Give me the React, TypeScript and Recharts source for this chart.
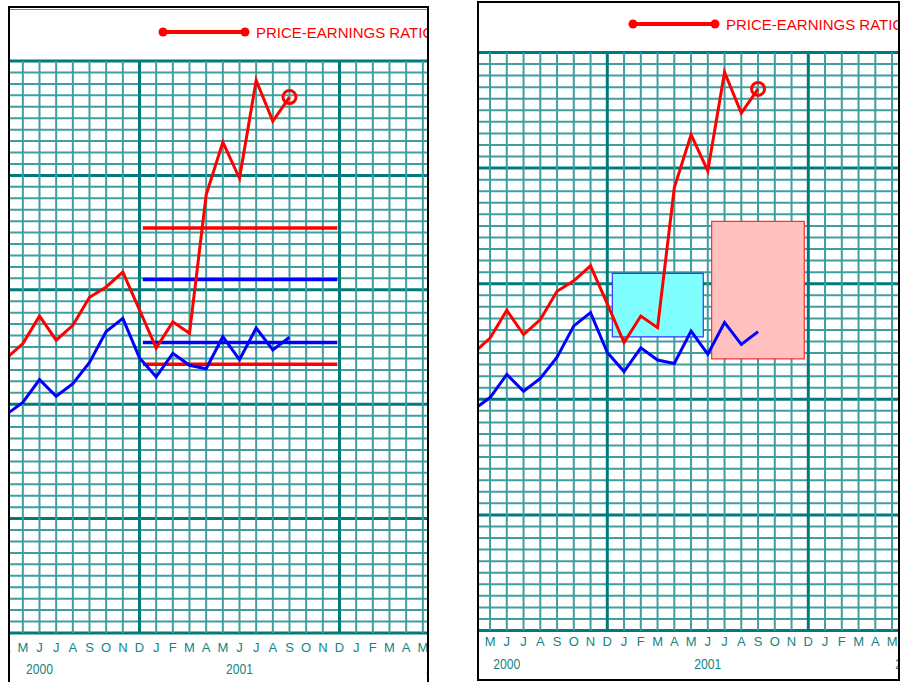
import React from 'react';
import {
  LineChart,
  Line,
  XAxis,
  YAxis,
  CartesianGrid,
  ReferenceLine,
  ReferenceArea,
  Legend,
} from 'recharts';

// ---------------- data ----------------
const periods = [
  '2000-04', '2000-05', '2000-06', '2000-07', '2000-08', '2000-09', '2000-10', '2000-11', '2000-12',
  '2001-01', '2001-02', '2001-03', '2001-04', '2001-05', '2001-06', '2001-07', '2001-08', '2001-09',
];
const priceEarnings = [
  24.0, 25.3, 27.7, 25.6, 26.9, 29.35, 30.25, 31.55, 28.25,
  24.9, 27.2, 26.2, 38.3, 42.9, 39.75, 48.3, 44.75, 46.85,
];
const blueSeries = [
  19.1, 20.15, 22.15, 20.7, 21.8, 23.65, 26.35, 27.5, 24.05,
  22.4, 24.45, 23.4, 23.1, 25.9, 23.9, 26.65, 24.75, 25.85,
];
const seriesName = 'PRICE-EARNINGS RATIO';
const monthLetters = ['J', 'F', 'M', 'A', 'M', 'J', 'J', 'A', 'S', 'O', 'N', 'D'];
const baseYear = 2000;
const axisFirst = '2000-04';
const axisLast = '2002-07';
const yMax = 50;

// horizontal level lines (left panel), in month-index units from Jan 2000
const redLevels = [35.4, 23.5];
const blueLevels = [30.9, 25.4];
const levelSpan = [11.2, 22.87];

// boxes (right panel)
const blueBox = [11.3, 16.73, 25.4, 30.9];
const redBox = [17.23, 22.76, 23.5, 35.4];

// ---------------- helpers ----------------
const toIndex = (p: string) => {
  const [y, m] = p.split('-').map(Number);
  return (y - baseYear) * 12 + (m - 1);
};

const data = periods.map((p, i) => ({
  m: toIndex(p),
  pe: priceEarnings[i],
  blue: blueSeries[i],
}));

const xMin = toIndex(axisFirst);
const xMax = toIndex(axisLast);
const xTicks: number[] = [];
for (let t = xMin; t <= xMax; t++) xTicks.push(t);
const yTicks: number[] = [];
for (let t = 0; t <= yMax; t++) yTicks.push(t);

const RED = '#ff0000';
const BLUE = '#0000ff';
const MINOR = '#3f9e9e';
const MAJOR = '#007b7b';
const LABEL = '#0f8585';

const hLine = (props: any) => {
  const { x1, x2, y1, y2, index } = props;
  const major = yTicks[index] % 10 === 0;
  return (
    <line
      key={`h-${index}`}
      x1={x1}
      x2={x2}
      y1={y1}
      y2={y2}
      stroke={major ? MAJOR : MINOR}
      strokeWidth={major ? 3 : 2}
    />
  );
};

const vLine = (props: any) => {
  const { x1, x2, y1, y2, index } = props;
  const major = xTicks[index] % 12 === 11;
  return (
    <line
      key={`v-${index}`}
      x1={x1}
      x2={x2}
      y1={y1}
      y2={y2}
      stroke={major ? MAJOR : MINOR}
      strokeWidth={major ? 3 : 2}
    />
  );
};

const endCircle = (props: any) => {
  const { cx, cy, index } = props;
  if (index !== data.length - 1) return <g key={`d-${index}`} />;
  return (
    <circle key={`d-${index}`} cx={cx} cy={cy} r={6.5} fill="none" stroke={RED} strokeWidth={3} />
  );
};

const makeTick = (monthDy: number, yearDy: number) => (props: any) => {
  const { x, y, payload } = props;
  const v = payload.value as number;
  const mi = ((v % 12) + 12) % 12;
  const year = baseYear + Math.floor(v / 12);
  const font = "'Liberation Sans', Arial, sans-serif";
  return (
    <g>
      <text x={x} y={y + monthDy} textAnchor="middle" fontSize={13} fill={LABEL} fontFamily={font}>
        {monthLetters[mi]}
      </text>
      {mi === 5 && (
        <text
          x={x - 13.5}
          y={y + yearDy}
          fontSize={15}
          fill={LABEL}
          fontFamily={font}
          textLength={27}
          lengthAdjust="spacingAndGlyphs"
        >
          {year}
        </text>
      )}
    </g>
  );
};

const LegendContent = (props: any) => {
  const items = (props.payload || []).filter((p: any) => p.type !== 'none');
  return (
    <svg width={330} height={20} style={{ display: 'block', overflow: 'visible' }}>
      {items.map((p: any, i: number) => (
        <g key={`lg-${i}`}>
          <line x1={5} x2={87} y1={10} y2={10} stroke={p.color} strokeWidth={4} />
          <circle cx={5} cy={10} r={4.5} fill={p.color} />
          <circle cx={87} cy={10} r={4.5} fill={p.color} />
          <text
            x={98}
            y={10}
            dominantBaseline="central"
            fontSize={15}
            fill={p.color}
            fontFamily="'Liberation Sans', Arial, sans-serif"
          >
            {p.value}
          </text>
        </g>
      ))}
    </svg>
  );
};

type PanelCfg = {
  box: { left: number; top: number; width: number; height: number };
  chartLeft: number;
  chartWidth: number;
  chartHeight: number;
  plotLeft: number;
  plotRight: number;
  plotTop: number;
  plotBottom: number;
  monthDy: number;
  yearDy: number;
  legendLeft: number;
  legendTop: number;
  variant: 'lines' | 'boxes';
  tealTop?: boolean;
};

function Panel({ cfg }: { cfg: PanelCfg }) {
  const { box } = cfg;
  return (
    <div
      style={{
        position: 'absolute',
        left: box.left,
        top: box.top,
        width: box.width,
        height: box.height,
        border: '2px solid #000',
        background: '#fff',
        overflow: 'hidden',
      }}
    >
      {cfg.tealTop && (
        <div style={{ position: 'absolute', left: 0, top: 1, width: '100%', height: 1, background: MINOR }} />
      )}
      <div style={{ position: 'absolute', left: cfg.chartLeft - box.left - 2, top: -box.top - 2 }}>
        <LineChart
          width={cfg.chartWidth}
          height={cfg.chartHeight}
          data={data}
          margin={{
            left: cfg.plotLeft,
            right: cfg.chartWidth - cfg.plotRight,
            top: cfg.plotTop,
            bottom: 0,
          }}
        >
          <CartesianGrid horizontal={hLine} vertical={vLine} />
          <XAxis
            type="number"
            dataKey="m"
            domain={[xMin, xMax]}
            ticks={xTicks}
            interval={0}
            tickLine={false}
            axisLine={false}
            tickSize={0}
            tickMargin={0}
            height={cfg.chartHeight - cfg.plotBottom}
            tick={makeTick(cfg.monthDy, cfg.yearDy)}
          />
          <YAxis type="number" domain={[0, yMax]} ticks={yTicks} interval={0} hide />
          <Legend
            content={<LegendContent />}
            layout="horizontal"
            verticalAlign="middle"
            wrapperStyle={{ left: cfg.legendLeft, top: cfg.legendTop, width: 330, height: 20 }}
          />
          {cfg.variant === 'boxes' && (
            <ReferenceArea
              x1={blueBox[0]}
              x2={blueBox[1]}
              y1={blueBox[2]}
              y2={blueBox[3]}
              fill="#80ffff"
              fillOpacity={1}
              stroke="#3535ff"
              strokeWidth={1.2}
            />
          )}
          {cfg.variant === 'boxes' && (
            <ReferenceArea
              x1={redBox[0]}
              x2={redBox[1]}
              y1={redBox[2]}
              y2={redBox[3]}
              fill="#ffc0c0"
              fillOpacity={1}
              stroke="#ff3030"
              strokeWidth={1.2}
            />
          )}
          {cfg.variant === 'lines' &&
            redLevels.map((v, i) => (
              <ReferenceLine
                key={`rl-${i}`}
                segment={[
                  { x: levelSpan[0], y: v },
                  { x: levelSpan[1], y: v },
                ]}
                stroke={RED}
                strokeWidth={3.5}
              />
            ))}
          {cfg.variant === 'lines' &&
            blueLevels.map((v, i) => (
              <ReferenceLine
                key={`bl-${i}`}
                segment={[
                  { x: levelSpan[0], y: v },
                  { x: levelSpan[1], y: v },
                ]}
                stroke={BLUE}
                strokeWidth={3.5}
              />
            ))}
          <Line
            type="linear"
            dataKey="blue"
            stroke={BLUE}
            strokeWidth={3}
            dot={false}
            activeDot={false}
            legendType="none"
            isAnimationActive={false}
          />
          <Line
            type="linear"
            dataKey="pe"
            name={seriesName}
            stroke={RED}
            strokeWidth={3}
            dot={endCircle}
            activeDot={false}
            isAnimationActive={false}
          />
        </LineChart>
      </div>
    </div>
  );
}

const leftCfg: PanelCfg = {
  box: { left: 8, top: 6, width: 417, height: 700 },
  chartLeft: 0,
  chartWidth: 470,
  chartHeight: 700,
  plotLeft: 6.17,
  plotRight: 456.17,
  plotTop: 61,
  plotBottom: 633,
  monthDy: 18.6,
  yearDy: 41,
  legendLeft: 158,
  legendTop: 21.5,
  variant: 'lines',
  tealTop: true,
};

const rightCfg: PanelCfg = {
  box: { left: 477, top: 1, width: 419, height: 676 },
  chartLeft: 460,
  chartWidth: 480,
  chartHeight: 682,
  plotLeft: 13.3,
  plotRight: 465.55,
  plotTop: 52.5,
  plotBottom: 630.5,
  monthDy: 15,
  yearDy: 38,
  legendLeft: 168,
  legendTop: 14,
  variant: 'boxes',
};

export default function App() {
  return (
    <div
      style={{
        position: 'absolute',
        left: 0,
        top: 0,
        width: 906,
        height: 682,
        overflow: 'hidden',
        background: '#fff',
      }}
    >
      <Panel cfg={leftCfg} />
      <Panel cfg={rightCfg} />
    </div>
  );
}
